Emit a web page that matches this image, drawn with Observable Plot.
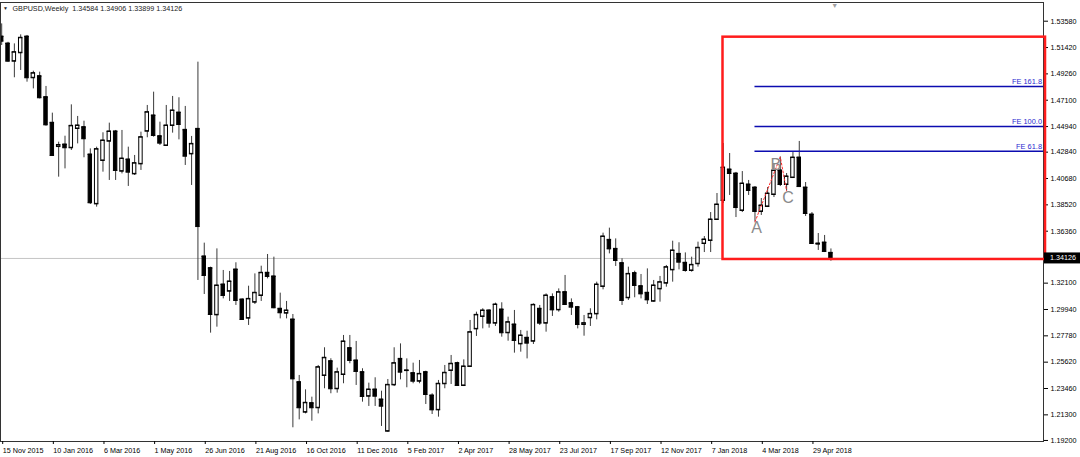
<!DOCTYPE html>
<html><head><meta charset="utf-8">
<script src="https://cdn.jsdelivr.net/npm/d3@7"></script>
<script src="https://cdn.jsdelivr.net/npm/@observablehq/plot@0.6"></script>
<style>
html,body{margin:0;padding:0;background:#fff;}
#chart svg{display:block;white-space:pre;}
</style></head><body><div id="chart"></div>
<script>
const symbolName = "GBPUSD,Weekly";
const openP = [1.5232,1.5175,1.5030,1.5099,1.5232,1.4894,1.4907,1.4735,1.4525,1.4330,
1.4347,1.4320,1.4478,1.4489,1.4265,1.3860,1.4216,1.4374,1.4454,1.4128,
1.4224,1.4106,1.4188,1.4456,1.4585,1.4415,1.4339,1.4503,1.4609,1.4467,
1.4270,1.4475,1.3429,1.3333,1.2950,1.3199,1.3144,1.3322,1.3076,1.2923,
1.3054,1.3109,1.3295,1.3265,1.3000,1.2964,1.2912,1.2398,1.2152,1.2226,
1.2188,1.2453,1.2570,1.2344,1.2461,1.2677,1.2576,1.2480,1.2283,1.2338,
1.2256,1.1996,1.2376,1.2589,1.2493,1.2472,1.2406,1.2480,1.2289,1.2171,
1.2385,1.2494,1.2554,1.2371,1.2527,1.2835,1.2937,1.2986,1.2882,1.2994,
1.2803,1.2871,1.2712,1.2762,1.2734,1.3000,1.2882,1.3095,1.2991,1.3136,
1.3046,1.3013,1.2871,1.2926,1.2958,1.3183,1.3565,1.3491,1.3374,1.3090,
1.3292,1.3185,1.3131,1.3062,1.3163,1.3210,1.3319,1.3450,1.3377,1.3314,
1.3369,1.3535,1.3560,1.3732,1.3888,1.4142,1.4109,1.3806,1.4019,1.3994,
1.3798,1.3839,1.3937,1.4134,1.4019,1.4076,1.4240,1.3994,1.3773,1.3535,
1.3543,1.34584];
const highP = [1.5336,1.5185,1.5172,1.5246,1.5241,1.4948,1.4940,1.4823,1.4604,1.4366,
1.4415,1.4672,1.4577,1.4538,1.4311,1.4325,1.4443,1.4522,1.4462,1.4462,
1.4325,1.4257,1.4448,1.4667,1.4776,1.4530,1.4667,1.4741,1.4730,1.4659,
1.4413,1.5022,1.3538,1.3341,1.3491,1.3314,1.3306,1.3377,1.3081,1.3185,
1.3286,1.3349,1.3445,1.3423,1.3128,1.3060,1.2953,1.2453,1.2335,1.2275,
1.2535,1.2680,1.2590,1.2513,1.2781,1.2781,1.2732,1.2508,1.2390,1.2434,
1.2324,1.2420,1.2680,1.2712,1.2589,1.2554,1.2576,1.2488,1.2303,1.2412,
1.2535,1.2617,1.2562,1.2581,1.2904,1.2972,1.3000,1.2991,1.3046,1.3049,
1.2931,1.2986,1.2822,1.2816,1.3040,1.3027,1.3122,1.3122,1.3163,1.3273,
1.3081,1.3019,1.2945,1.3000,1.3218,1.3620,1.3661,1.3573,1.3410,1.3341,
1.3308,1.3281,1.3327,1.3232,1.3265,1.3355,1.3554,1.3541,1.3458,1.3423,
1.3546,1.3592,1.3789,1.3945,1.4355,1.4273,1.4118,1.4125,1.4052,1.4002,
1.3904,1.3994,1.4191,1.4245,1.4109,1.4281,1.4372,1.4035,1.3789,1.3617,
1.3601,1.34906];
const lowP = [1.5159,1.5022,1.4894,1.4954,1.4858,1.4803,1.4721,1.4497,1.4251,1.4079,
1.4147,1.4298,1.4352,1.4238,1.3855,1.3833,1.4120,1.4052,1.4052,1.4106,
1.4003,1.4093,1.4134,1.4402,1.4407,1.4339,1.4333,1.4440,1.4385,1.4175,
1.4011,1.3232,1.3117,1.2800,1.2849,1.3081,1.3060,1.3027,1.2904,1.2863,
1.3035,1.3060,1.3245,1.3000,1.2917,1.2917,1.2024,1.2089,1.2138,1.2078,
1.2138,1.2344,1.2303,1.2308,1.2385,1.2549,1.2371,1.2234,1.2199,1.2199,
1.2035,1.1988,1.2362,1.2417,1.2352,1.2385,1.2385,1.2215,1.2133,1.2111,
1.2344,1.2379,1.2365,1.2362,1.2521,1.2773,1.2835,1.2841,1.2855,1.2767,
1.2734,1.2636,1.2644,1.2589,1.2707,1.2863,1.2808,1.2937,1.2972,1.3027,
1.2945,1.2835,1.2775,1.2855,1.2909,1.3155,1.3450,1.3347,1.3027,1.3068,
1.3090,1.3081,1.3035,1.3054,1.3054,1.3177,1.3218,1.3319,1.3300,1.3300,
1.3341,1.3461,1.3461,1.3724,1.3863,1.3929,1.3748,1.3789,1.3929,1.3712,
1.3765,1.3830,1.3912,1.4002,1.3966,1.4068,1.3994,1.3757,1.3527,1.3478,
1.3461,1.33899];
const closeP = [1.5194,1.5030,1.5104,1.5222,1.4894,1.4932,1.4730,1.4508,1.4257,1.4343,
1.4320,1.4500,1.4503,1.4394,1.3869,1.4309,1.4380,1.4454,1.4134,1.4232,
1.4120,1.4194,1.4407,1.4612,1.4421,1.4358,1.4503,1.4626,1.4511,1.4251,
1.4352,1.3674,1.3273,1.2953,1.3191,1.3109,1.3224,1.3068,1.2912,1.3081,
1.3131,1.3295,1.3265,1.3008,1.2967,1.2986,1.2425,1.2188,1.2229,1.2188,
1.2521,1.2598,1.2344,1.2480,1.2732,1.2576,1.2486,1.2281,1.2338,1.2283,
1.2201,1.2376,1.2554,1.2480,1.2495,1.2406,1.2466,1.2297,1.2171,1.2385,
1.2475,1.2549,1.2371,1.2527,1.2808,1.2950,1.2986,1.2882,1.3035,1.2803,
1.2890,1.2740,1.2781,1.2718,1.3032,1.2882,1.3109,1.2991,1.3136,1.3035,
1.3013,1.2871,1.2882,1.2958,1.3199,1.3593,1.3491,1.3396,1.3068,1.3286,
1.3191,1.3122,1.3073,1.3191,1.3218,1.3341,1.3478,1.3382,1.3314,1.3360,
1.3500,1.3568,1.3732,1.3855,1.4158,1.4109,1.3830,1.4027,1.3970,1.3798,
1.3847,1.3945,1.4134,1.4019,1.4085,1.4240,1.4002,1.3781,1.3535,1.3530,
1.3470,1.34126];
const xTickLabels = ["15 Nov 2015","10 Jan 2016","6 Mar 2016","1 May 2016","26 Jun 2016","21 Aug 2016",
"16 Oct 2016","11 Dec 2016","5 Feb 2017","2 Apr 2017","28 May 2017","23 Jul 2017","17 Sep 2017",
"12 Nov 2017","7 Jan 2018","4 Mar 2018","29 Apr 2018"];
const weeksPerXTick = 8;
const yTickValues = [1.53580,1.51420,1.49260,1.47100,1.44940,1.42840,1.40680,1.38520,1.36360,
1.32100,1.29940,1.27780,1.25620,1.23460,1.21300,1.19200];
const feLevels = [1.4292, 1.4494, 1.4823];
const feNames = ["FE 61.8", "FE 100.0", "FE 161.8"];
const pivotNames = ["A", "B", "C"];
const pivotWeeks = [119, 123, 124];
const pivotPrices = [1.3712, 1.4245, 1.3966];
const boxWeeks = [113.95, 164.9];
const boxPrices = [1.3404, 1.5227];

// layout
const W = 1080, H = 457, mL = 0, mR = 37, mT = 2, mB = 16;
const barStep = 6.33, firstBarPx = 1.2;
const xDomain = [-firstBarPx / barStep, (W - mL - mR - firstBarPx) / barStep];
const yDomain = [1.19115, 1.55113];
const font = "'Liberation Sans', Arial, sans-serif";

const candles = openP.map((o, i) => ({i, o, h: highP[i], l: lowP[i], c: closeP[i]}));
const bear = candles.filter(d => d.c < d.o);
const bull = candles.filter(d => d.c >= d.o);
const last = candles[candles.length - 1];
const fe = feLevels.map((v, k) => ({v, name: feNames[k]}));
const pivots = pivotNames.map((n, k) => ({name: n, i: pivotWeeks[k], p: pivotPrices[k]}));
const xTickIdx = xTickLabels.map((_, k) => k * weeksPerXTick);
const xLabelMap = new Map(xTickIdx.map((v, k) => [v, xTickLabels[k]]));
const fmt = v => v.toFixed(5);
const titleStr = `${symbolName}  ${fmt(last.o)} ${fmt(last.h)} ${fmt(last.l)} ${fmt(last.c)}`;
const hw = 0.27;
const pivotOffsets = [[1.7, 6], [-4.5, 7.6], [1.4, 7]];

const plot = Plot.plot({
  width: W, height: H,
  marginLeft: mL, marginRight: mR, marginTop: mT, marginBottom: mB,
  style: {fontFamily: font, fontSize: "7.2px", background: "white", color: "#000"},
  x: {type: "linear", domain: xDomain, axis: null},
  y: {domain: yDomain, axis: null},
  marks: [
    Plot.ruleY([last.c], {stroke: "#c4c4c4", strokeWidth: 1}),
    Plot.ruleX(candles, {x: "i", y1: "l", y2: "h", stroke: "#3a3a3a", strokeWidth: 1}),
    Plot.rect(bear, {x1: d => d.i - hw, x2: d => d.i + hw, y1: "o", y2: "c", fill: "#000", stroke: "#000", strokeWidth: 1}),
    Plot.rect(bull, {x1: d => d.i - hw, x2: d => d.i + hw, y1: "o", y2: "c", fill: "#fff", stroke: "#000", strokeWidth: 1}),
    Plot.ruleY(candles, {y: "o", x1: d => d.i - hw - 0.08, x2: d => d.i + hw + 0.08, stroke: "#000", strokeWidth: 1}),
    Plot.ruleY(candles, {y: "c", x1: d => d.i - hw - 0.08, x2: d => d.i + hw + 0.08, stroke: "#000", strokeWidth: 1}),
    Plot.frame({stroke: "#333"}),
    Plot.axisY(yTickValues, {anchor: "right", tickFormat: fmt, tickSize: 4, tickPadding: 3, fontSize: 7.2}),
    Plot.axisX(xTickIdx, {anchor: "bottom", tickFormat: d => xLabelMap.get(d), tickSize: 3, tickPadding: 3, textAnchor: "start", dx: 1, fontSize: 7.2}),
    Plot.line(pivots, {x: "i", y: "p", stroke: "#ff2a2a", strokeWidth: 1, strokeDasharray: "2,2"}),
    Plot.ruleY(fe, {y: "v", x1: pivotWeeks[0], x2: xDomain[1], stroke: "#0c0cb0", strokeWidth: 1.6}),
    Plot.text(fe, {x: xDomain[1], y: "v", text: "name", textAnchor: "end", dx: -1.5, dy: -4.5, fill: "#2a2ad0", fontSize: 7.4}),
    ...pivots.map((p, k) => Plot.text([p], {x: "i", y: "p", text: "name", dx: pivotOffsets[k][0], dy: pivotOffsets[k][1], fill: "#8a8a8a", fontSize: 16, fontFamily: font})),
    Plot.rect([{x1: boxWeeks[0], x2: boxWeeks[1], y1: boxPrices[0], y2: boxPrices[1]}], {x1: "x1", x2: "x2", y1: "y1", y2: "y2", fill: "none", stroke: "#ff1c1c", strokeWidth: 2.5}),
    Plot.text([titleStr], {frameAnchor: "top-left", dx: 12, dy: 3, lineAnchor: "top", textAnchor: "start", fill: "#222", fontSize: 7.2}),
    Plot.text(["\u25BC"], {frameAnchor: "top-left", dx: 2.5, dy: 4, lineAnchor: "top", textAnchor: "start", fill: "#222", fontSize: 5}),
    Plot.text(["\u25BC"], {x: candles.length - 1 + 0.6, frameAnchor: "top", dy: 1, lineAnchor: "top", fill: "#a0a0a0", fontSize: 7})
  ]
});

document.getElementById("chart").append(plot);

// current price tag on the price axis
const ys = plot.scale("y");
const svg = d3.select(plot);
const yLast = ys.apply(last.c);
const g = svg.append("g");
g.append("rect").attr("x", W - mR + 1).attr("y", yLast - 5.5).attr("width", mR - 1).attr("height", 11).attr("fill", "#000");
g.append("text").attr("x", W - mR + 7).attr("y", yLast).attr("dy", "0.35em")
  .attr("text-anchor", "start")
  .attr("fill", "#fff").attr("font-size", 7.2).attr("font-family", font).text(fmt(last.c));
</script></body></html>
